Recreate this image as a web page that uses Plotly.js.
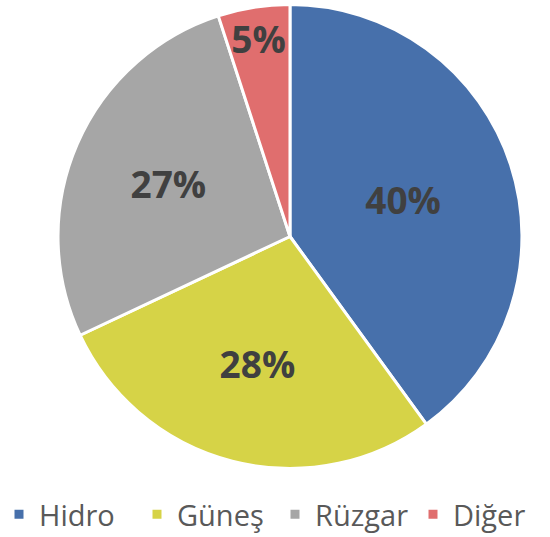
<!DOCTYPE html>
<html>
<head>
<meta charset="utf-8">
<script src="https://cdn.plot.ly/plotly-3.0.1.min.js"></script>
<style>html,body{margin:0;padding:0;background:#fff;}#chart{width:550px;height:537px;}</style>
</head>
<body>
<div id="chart"></div>
<script>
const labels = ["Hidro", "Güneş", "Rüzgar", "Diğer"];
const values = [40, 28, 27, 5];
const colors = ["#4770AB", "#D6D347", "#A6A6A6", "#E06E6E"];

const data = [{
  type: "pie",
  labels: labels,
  values: values,
  sort: false,
  direction: "clockwise",
  rotation: 0,
  marker: {colors: colors, line: {color: "#ffffff", width: 3}},
  textinfo: "percent",
  textposition: "inside",
  insidetextorientation: "horizontal",
  insidetextfont: {family: "Open Sans, sans-serif", size: 37, color: "#404040", weight: "bold"},
  hoverinfo: "label+percent",
  domain: {x: [0.1055, 0.949], y: [0.1276, 0.9916]}
}];

const layout = {
  width: 550, height: 537,
  margin: {l: 0, r: 0, t: 0, b: 0, autoexpand: false},
  paper_bgcolor: "#ffffff",
  showlegend: true,
  uniformtext: {mode: "show", minsize: 37},
  legend: {
    orientation: "h",
    x: 0.5, xanchor: "center",
    y: 0.042, yanchor: "middle",
    font: {family: "Open Sans, sans-serif", size: 29, color: "#595959"},
    itemwidth: 30,
    entrywidth: 93,
    traceorder: "normal"
  }
};

Plotly.newPlot("chart", data, layout, {displayModeBar: false, staticPlot: true});
</script>
</body>
</html>
